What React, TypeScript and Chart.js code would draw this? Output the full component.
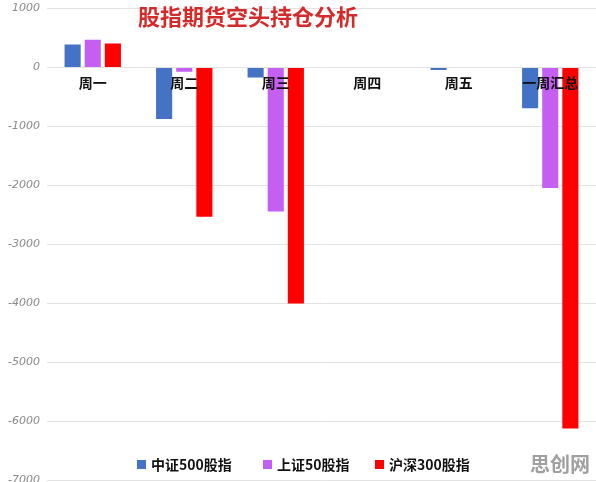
import React, { useEffect, useRef } from "react";
import Chart from "chart.js/auto";

const categories = ["周一", "周二", "周三", "周四", "周五", "一周汇总"];
const seriesNames = ["中证500股指", "上证50股指", "沪深300股指"];
const zz500 = [390, -870, -170, 0, -40, -690];
const sz50 = [470, -70, -2440, 0, 0, -2040];
const hs300 = [410, -2530, -4000, 0, 0, -6120];
const yMin = -7000;
const yMax = 1000;
const yStep = 1000;
const titleText = "股指期货空头持仓分析";
const watermarkText = "思创网";
const seriesColors = ["#4472c4", "#c55ff2", "#ff0000"];

const SHIFT = 5; // canvas is shifted up by this many px

const overlayPlugin = {
  id: "overlay",
  afterDraw(chart: any) {
    const ctx = chart.ctx;
    ctx.save();
    ctx.textAlign = "left";
    ctx.textBaseline = "middle";
    // title
    ctx.font = "bold 22px 'Noto Sans CJK SC'";
    ctx.fillStyle = "#d42a2a";
    ctx.fillText(titleText, 138, 17 + SHIFT);
    // legend
    const legendY = 465 + SHIFT;
    const xs = [137, 263, 375];
    ctx.font = "bold 14px 'Noto Sans CJK SC'";
    seriesNames.forEach((name, i) => {
      ctx.fillStyle = seriesColors[i];
      ctx.fillRect(xs[i], legendY - 5, 9, 9);
      ctx.fillStyle = "#111";
      ctx.fillText(name, xs[i] + 14, legendY);
    });
    // watermark
    ctx.font = "bold 20px 'Noto Sans CJK SC'";
    ctx.fillStyle = "#a0a0a0";
    ctx.fillText(watermarkText, 530, 464 + SHIFT);
    ctx.restore();
  },
};

export default function App() {
  const ref = useRef<HTMLCanvasElement | null>(null);
  useEffect(() => {
    if (!ref.current) return;
    const chart = new Chart(ref.current, {
      type: "bar",
      data: {
        labels: categories,
        datasets: [
          { label: seriesNames[0], data: zz500, backgroundColor: seriesColors[0] },
          { label: seriesNames[1], data: sz50, backgroundColor: seriesColors[1] },
          { label: seriesNames[2], data: hs300, backgroundColor: seriesColors[2] },
        ],
      },
      options: {
        responsive: false,
        animation: false,
        devicePixelRatio: 1,
        layout: { padding: { top: 2, right: 0, bottom: 2, left: 0 } },
        datasets: {
          bar: { categoryPercentage: 0.66, barPercentage: 0.8 },
        },
        plugins: {
          legend: { display: false },
          title: { display: false },
          tooltip: { enabled: false },
        },
        scales: {
          x: {
            position: { y: 0 } as any,
            grid: { display: false, drawTicks: false },
            border: { display: false },
            ticks: {
              z: 1,
              padding: 7,
              autoSkip: false,
              maxRotation: 0,
              color: "#111",
              font: { family: "'Noto Sans CJK SC'", size: 14, weight: "bold" },
            },
          },
          y: {
            min: yMin,
            max: yMax,
            afterFit(scale: any) {
              scale.width = 47;
            },
            grid: { color: "#e2e2e2", drawTicks: false },
            border: { display: false },
            ticks: {
              stepSize: yStep,
              padding: 7,
              color: "#8a8a8a",
              font: { family: "'DejaVu Sans'", size: 11, style: "italic" },
              callback: (v: any) => String(v),
            },
          },
        },
      },
      plugins: [overlayPlugin],
    });
    return () => chart.destroy();
  }, []);
  return (
    <div style={{ position: "fixed", left: 0, top: -SHIFT, width: 596, height: 499, background: "#fff" }}>
      <canvas ref={ref} width={596} height={499} />
    </div>
  );
}
